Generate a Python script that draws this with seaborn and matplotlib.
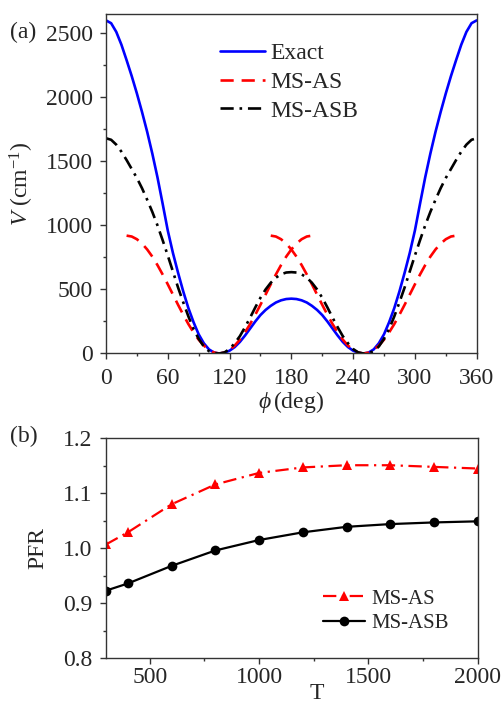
import numpy as np
import pandas as pd
import seaborn as sns
import matplotlib.pyplot as plt
from matplotlib.ticker import MultipleLocator

# ---- panel (a): torsional potential ----
phi = list(range(0, 365, 5))
v_exact = [2600, 2578, 2510, 2410, 2290, 2165, 2030, 1885, 1730, 1560,
           1375, 1170, 960, 785, 630, 485, 355, 245, 150, 80,
           32, 7, 0, 6, 22, 50, 90, 140, 195, 250,
           300, 340, 372, 398, 415, 425, 428,
           425, 415, 398, 372, 340, 300, 250, 195, 140,
           90, 50, 22, 6, 0, 7, 32, 80, 150, 245,
           355, 485, 630, 785, 960, 1170, 1375, 1560, 1730, 1885,
           2030, 2165, 2290, 2410, 2510, 2578, 2600]
v_asb = [1680, 1668, 1630, 1575, 1510, 1440, 1370, 1290, 1200, 1105,
         1000, 885, 765, 640, 515, 400, 290, 192, 115, 55,
         18, 3, 0, 8, 35, 80, 135, 205, 280, 360,
         435, 500, 552, 592, 618, 632, 635,
         632, 618, 592, 552, 500, 435, 360, 280, 205,
         135, 80, 35, 8, 0, 3, 18, 55, 115, 192,
         290, 400, 515, 640, 765, 885, 1000, 1105, 1200, 1290,
         1370, 1440, 1510, 1575, 1630, 1668, 1680]
phi_as1 = list(range(20, 205, 5))
v_as1 = [920, 913, 892, 858, 812, 756, 690, 617, 540, 460,
         380, 303, 230, 165, 108, 62, 28, 7, 0, 7,
         28, 62, 108, 165, 230, 303, 380, 460, 540, 617,
         690, 756, 812, 858, 892, 913, 920]
phi_as2 = list(range(160, 345, 5))
v_as2 = [920, 913, 892, 858, 812, 756, 690, 617, 540, 460,
         380, 303, 230, 165, 108, 62, 28, 7, 0, 7,
         28, 62, 108, 165, 230, 303, 380, 460, 540, 617,
         690, 756, 812, 858, 892, 913, 920]

# ---- panel (b): PFR vs T ----
temps = [300, 400, 600, 800, 1000, 1200, 1400, 1600, 1800, 2000]
pfr_as = [1.007, 1.029, 1.080, 1.116, 1.137, 1.147, 1.151, 1.151, 1.148, 1.145]
pfr_asb = [0.923, 0.936, 0.968, 0.996, 1.015, 1.029, 1.039, 1.044, 1.047, 1.049]

sns.set_theme(style='ticks')
plt.rcParams['font.family'] = ['Liberation Serif', 'DejaVu Serif']
plt.rcParams['mathtext.fontset'] = 'custom'
plt.rcParams['mathtext.rm'] = 'Liberation Serif'
plt.rcParams['mathtext.it'] = 'Liberation Serif:italic'
plt.rcParams['mathtext.fallback'] = 'stix'
plt.rcParams['xtick.direction'] = 'out'
plt.rcParams['ytick.direction'] = 'out'

fig = plt.figure(figsize=(5.03, 7.06), dpi=100)
ax1 = fig.add_axes([0.2107, 0.4993, 0.737, 0.4809])
ax2 = fig.add_axes([0.2107, 0.0676, 0.739, 0.3116])

fs = 17
sns.lineplot(x=phi, y=v_exact, ax=ax1, color='#0000ff', lw=1.9,
             estimator=None, label='Exact')
sns.lineplot(x=phi_as1, y=v_as1, ax=ax1, color='#ff0000', lw=1.9,
             linestyle=(0, (5, 3)), estimator=None, label='MS-AS')
sns.lineplot(x=phi_as2, y=v_as2, ax=ax1, color='#ff0000', lw=1.9,
             linestyle=(0, (5, 3)), estimator=None, label='_nolegend_')
sns.lineplot(x=phi, y=v_asb, ax=ax1, color='black', lw=1.9,
             linestyle=(0, (5, 2.2, 1, 2.2)), estimator=None, label='MS-ASB')

ax1.set_xlim(0, 360)
ax1.set_ylim(0, 2650)
ax1.xaxis.set_major_locator(MultipleLocator(60))
ax1.xaxis.set_minor_locator(MultipleLocator(30))
ax1.yaxis.set_major_locator(MultipleLocator(500))
ax1.yaxis.set_minor_locator(MultipleLocator(250))
ax1.set_xlabel(r'$\phi\,$(deg)', fontsize=fs, labelpad=0)
ax1.set_ylabel(r'$V$ (cm$^{-1}$)', fontsize=fs)
ax1.yaxis.set_label_coords(-0.19, 0.5)
ax1.legend(loc='upper left', bbox_to_anchor=(0.3075, 0.915), frameon=False,
           fontsize=fs, borderpad=0, borderaxespad=0, handlelength=1.9,
           handletextpad=0.25, labelspacing=0.3)

sns.lineplot(x=temps, y=pfr_as, ax=ax2, color='#ff0000', lw=1.6,
             linestyle=(0, (6, 2.5, 1, 2.5)), marker='^', markersize=7.5,
             markeredgewidth=0, estimator=None, label='MS-AS')
sns.lineplot(x=temps, y=pfr_asb, ax=ax2, color='black', lw=1.6,
             marker='o', markersize=7, markeredgewidth=0,
             estimator=None, label='MS-ASB')
ax2.set_xlim(300, 2000)
ax2.set_ylim(0.8, 1.2)
ax2.xaxis.set_major_locator(MultipleLocator(500))
ax2.xaxis.set_minor_locator(MultipleLocator(250))
ax2.yaxis.set_major_locator(MultipleLocator(0.1))
ax2.yaxis.set_minor_locator(MultipleLocator(0.05))
ax2.yaxis.set_major_formatter(plt.FormatStrFormatter('%.1f'))
ax2.set_xlabel('T', fontsize=fs)
ax2.xaxis.set_label_coords(0.567, -0.112)
ax2.xaxis.label.set_va('top')
ax2.set_ylabel('PFR', fontsize=fs)
ax2.yaxis.set_label_coords(-0.156, 0.5)
ax2.legend(loc='upper left', bbox_to_anchor=(0.584, 0.315), frameon=False,
           fontsize=15, borderpad=0, borderaxespad=0, handlelength=2.0,
           handletextpad=0.3, labelspacing=0.25)

for ax in (ax1, ax2):
    for s in ax.spines.values():
        s.set_visible(True)
        s.set_color('#333333')
        s.set_linewidth(1.0)
    ax.tick_params(which='major', length=4.5, width=1.0, color='#333333',
                   labelsize=fs)
    ax.tick_params(which='minor', length=2.5, width=1.0, color='#333333')
    ax.tick_params(top=False, right=False, which='both')
    ax.tick_params(axis='y', which='major', pad=5)
ax1.tick_params(axis='x', which='major', pad=6)
ax2.tick_params(axis='x', which='major', pad=2)

fig.text(10 / 503, 1 - 32 / 706, '(a)', fontsize=fs, va='center', ha='left')
fig.text(10 / 503, 1 - 436 / 706, '(b)', fontsize=fs, va='center', ha='left')

fig.savefig('out.png', dpi=100)
